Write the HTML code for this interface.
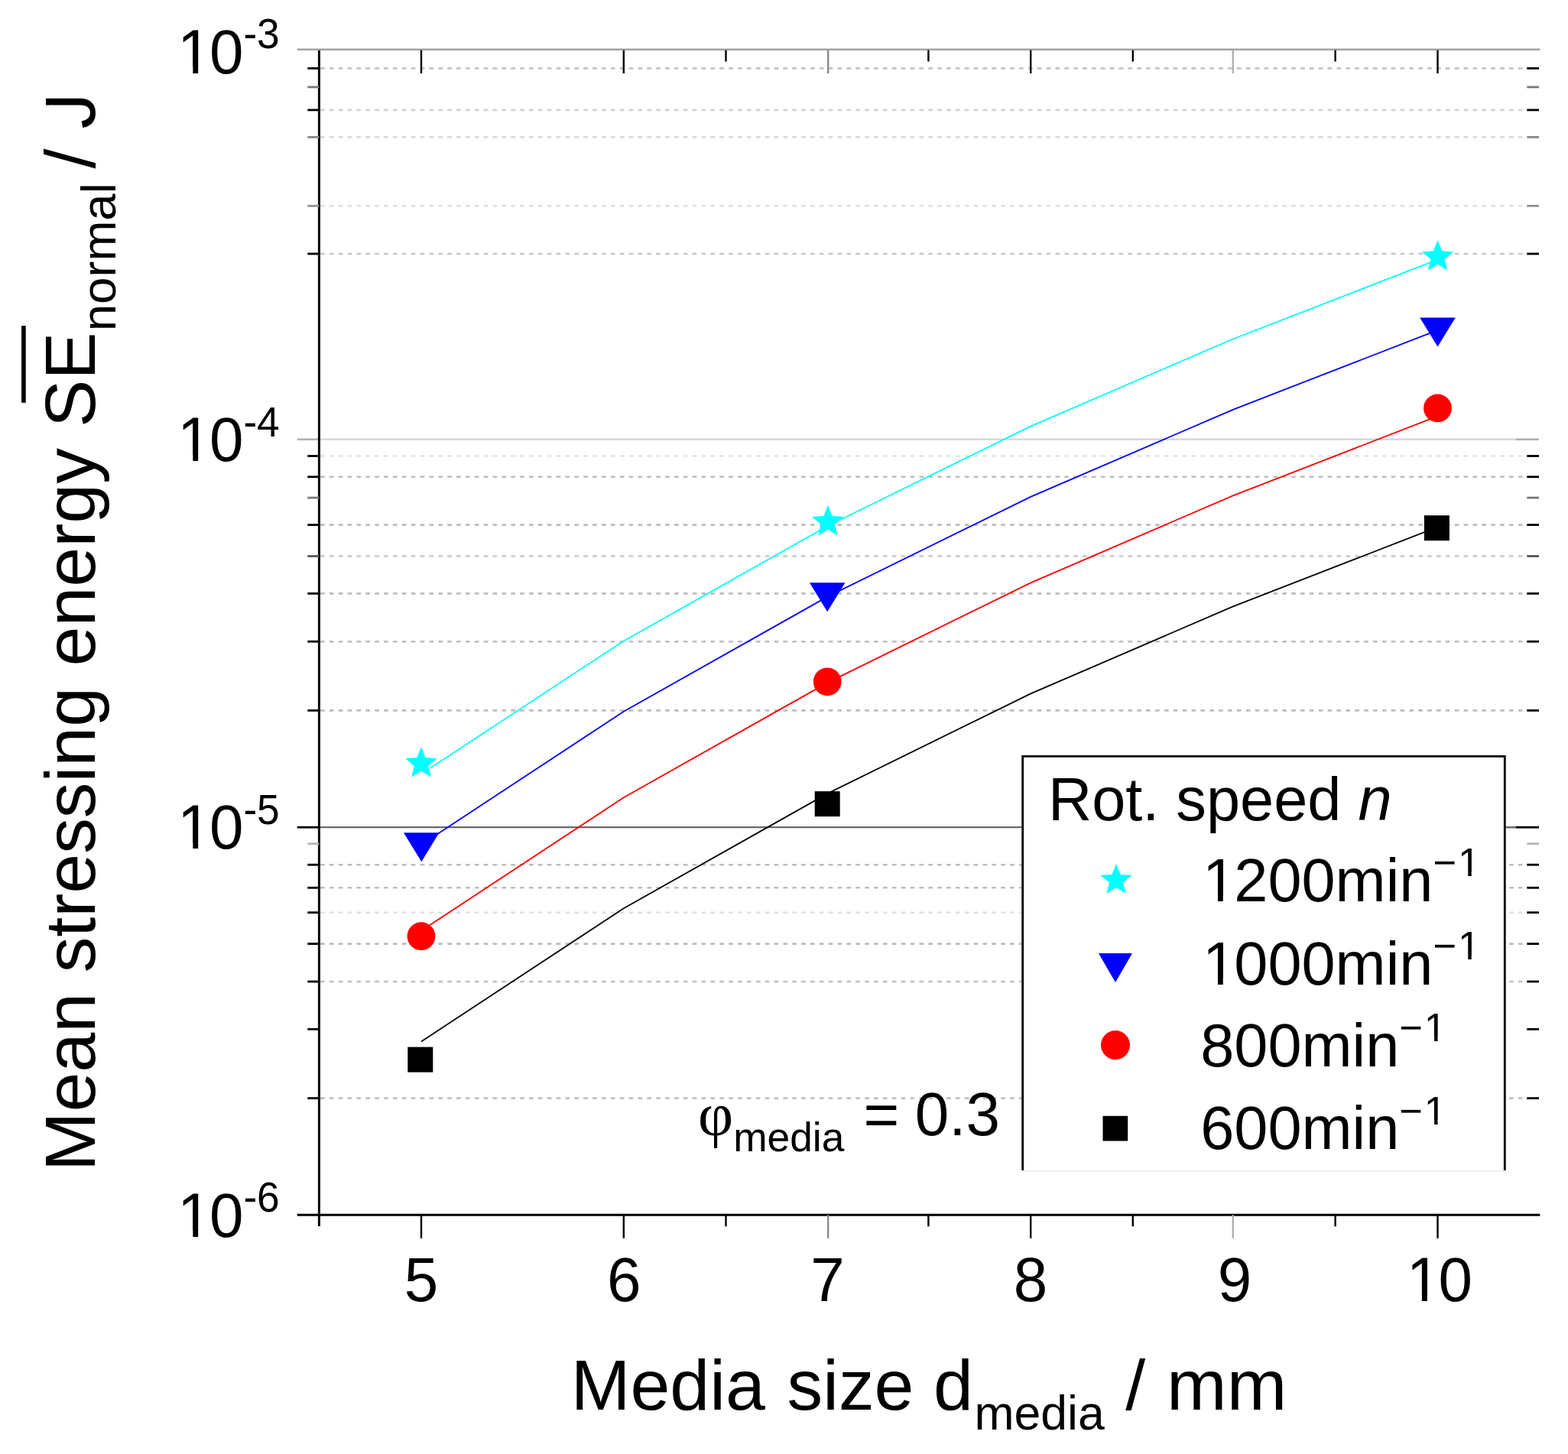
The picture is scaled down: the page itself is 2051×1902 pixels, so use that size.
<!DOCTYPE html>
<html lang="en">
<head>
<meta charset="utf-8">
<title>Mean stressing energy vs. media size</title>
<style>
html,body{margin:0;padding:0;background:#fff;}
body{width:2051px;height:1902px;overflow:hidden;}
svg{display:block;filter:blur(0.7px);}
</style>
</head>
<body>
<svg width="2051" height="1902" viewBox="0 0 2051 1902">
<rect x="0" y="0" width="2051" height="1902" fill="#fff"/>
<g fill="none" stroke-width="2.6" stroke-dasharray="5.7 6.17">
<line x1="419" y1="89.4" x2="1991.6" y2="89.4" stroke="#c4c4c4"/>
<line x1="419" y1="143.9" x2="1991.6" y2="143.9" stroke="#d2d2d2"/>
<line x1="419" y1="179.4" x2="1991.6" y2="179.4" stroke="#dadada"/>
<line x1="419" y1="269.3" x2="1991.6" y2="269.3" stroke="#dedede"/>
<line x1="419" y1="332.0" x2="1991.6" y2="332.0" stroke="#c6c6c6"/>
<line x1="419" y1="596.5" x2="1991.6" y2="596.5" stroke="#e2e2e2"/>
<line x1="419" y1="623.8" x2="1991.6" y2="623.8" stroke="#bdbdbd"/>
<line x1="419" y1="686.6" x2="1991.6" y2="686.6" stroke="#bdbdbd"/>
<line x1="419" y1="727.5" x2="1991.6" y2="727.5" stroke="#c8c8c8"/>
<line x1="419" y1="776.4" x2="1991.6" y2="776.4" stroke="#bdbdbd"/>
<line x1="419" y1="839.2" x2="1991.6" y2="839.2" stroke="#bdbdbd"/>
<line x1="419" y1="929.4" x2="1991.6" y2="929.4" stroke="#bdbdbd"/>
<line x1="419" y1="1131.2" x2="1991.6" y2="1131.2" stroke="#bdbdbd"/>
<line x1="419" y1="1161.3" x2="1991.6" y2="1161.3" stroke="#bdbdbd"/>
<line x1="419" y1="1193.7" x2="1991.6" y2="1193.7" stroke="#e0e0e0"/>
<line x1="419" y1="1234.6" x2="1991.6" y2="1234.6" stroke="#bdbdbd"/>
<line x1="419" y1="1284.0" x2="1991.6" y2="1284.0" stroke="#c0c0c0"/>
<line x1="419" y1="1436.6" x2="1991.6" y2="1436.6" stroke="#c0c0c0"/>
</g>
<line x1="388.7" y1="64.7" x2="2014.4" y2="64.7" stroke="#a2a2a2" stroke-width="2.6"/>
<line x1="417.4" y1="574.8" x2="1983" y2="574.8" stroke="#d8d8d8" stroke-width="2.4"/>
<line x1="388.7" y1="574.8" x2="417.4" y2="574.8" stroke="#b0b0b0" stroke-width="2.6"/>
<line x1="1983" y1="574.8" x2="2013" y2="574.8" stroke="#b0b0b0" stroke-width="2.6"/>
<line x1="417.4" y1="1082.2" x2="1983" y2="1082.2" stroke="#6a6a6a" stroke-width="2.2"/>
<line x1="388.7" y1="1082.2" x2="417.4" y2="1082.2" stroke="#000" stroke-width="2.8"/>
<line x1="1983" y1="1082.2" x2="2013" y2="1082.2" stroke="#000" stroke-width="2.8"/>
<polyline points="562.5,1005.1 815.8,838.4 1083.2,687.8 1348.2,557.6 1612.8,443.5 1880.5,339.6" fill="none" stroke="#00ffff" stroke-width="1.8"/>
<polyline points="551.0,1105.0 815.8,930.7 1083.2,780.1 1348.2,649.9 1612.8,535.8 1880.5,431.9" fill="none" stroke="#0000ff" stroke-width="1.8"/>
<polyline points="551.0,1217.5 815.8,1043.2 1083.2,892.6 1348.2,762.4 1612.8,648.3 1880.5,544.4" fill="none" stroke="#ff0000" stroke-width="1.8"/>
<polyline points="551.0,1362.5 815.8,1188.2 1083.2,1037.6 1348.2,907.4 1612.8,793.3 1880.5,689.4" fill="none" stroke="#000000" stroke-width="1.8"/>
<polygon points="551.0,977.1 556.6,991.1 571.7,992.2 560.1,1001.9 563.8,1016.5 551.0,1008.5 538.2,1016.5 541.9,1001.9 530.3,992.2 545.4,991.1" fill="#00ffff"/>
<polygon points="1082.9,661.0 1088.5,675.0 1103.6,676.1 1092.0,685.8 1095.7,700.4 1082.9,692.4 1070.1,700.4 1073.8,685.8 1062.2,676.1 1077.3,675.0" fill="#00ffff"/>
<polygon points="1880.6,314.3 1886.2,328.3 1901.3,329.4 1889.7,339.1 1893.4,353.7 1880.6,345.7 1867.8,353.7 1871.5,339.1 1859.9,329.4 1875.0,328.3" fill="#00ffff"/>
<polygon points="528.0,1089.2 574.5,1089.2 551.3,1127.2" fill="#0000ff"/>
<polygon points="1059.0,762.2 1105.5,762.2 1082.2,800.2" fill="#0000ff"/>
<polygon points="1857.2,415.4 1903.8,415.4 1880.5,453.4" fill="#0000ff"/>
<circle cx="551.0" cy="1224.7" r="18.4" fill="#ff0000"/>
<circle cx="1082.2" cy="891.8" r="18.4" fill="#ff0000"/>
<circle cx="1880.5" cy="533.9" r="18.4" fill="#ff0000"/>
<rect x="533.3" y="1369.6" width="33" height="33" fill="#000"/>
<rect x="1065.7" y="1035.1" width="33" height="33" fill="#000"/>
<rect x="1862.9" y="674.2" width="33" height="33" fill="#000"/>
<line x1="417.4" y1="66" x2="417.4" y2="1604" stroke="#000" stroke-width="3"/>
<line x1="388.7" y1="1589.3" x2="2014.4" y2="1589.3" stroke="#000" stroke-width="3"/>
<line x1="402.3" y1="89.4" x2="417.4" y2="89.4" stroke="#000" stroke-width="2.8"/>
<line x1="1997.3" y1="89.4" x2="2013" y2="89.4" stroke="#000" stroke-width="2.8"/>
<line x1="402.3" y1="113.9" x2="417.4" y2="113.9" stroke="#777" stroke-width="2.8"/>
<line x1="1997.3" y1="113.9" x2="2013" y2="113.9" stroke="#777" stroke-width="2.8"/>
<line x1="402.3" y1="143.9" x2="417.4" y2="143.9" stroke="#000" stroke-width="2.8"/>
<line x1="1997.3" y1="143.9" x2="2013" y2="143.9" stroke="#000" stroke-width="2.8"/>
<line x1="402.3" y1="179.4" x2="417.4" y2="179.4" stroke="#888" stroke-width="2.8"/>
<line x1="1997.3" y1="179.4" x2="2013" y2="179.4" stroke="#888" stroke-width="2.8"/>
<line x1="402.3" y1="269.3" x2="417.4" y2="269.3" stroke="#909090" stroke-width="2.8"/>
<line x1="1997.3" y1="269.3" x2="2013" y2="269.3" stroke="#909090" stroke-width="2.8"/>
<line x1="402.3" y1="332.0" x2="417.4" y2="332.0" stroke="#000" stroke-width="2.8"/>
<line x1="1997.3" y1="332.0" x2="2013" y2="332.0" stroke="#000" stroke-width="2.8"/>
<line x1="402.3" y1="596.5" x2="417.4" y2="596.5" stroke="#000" stroke-width="2.8"/>
<line x1="1997.3" y1="596.5" x2="2013" y2="596.5" stroke="#000" stroke-width="2.8"/>
<line x1="402.3" y1="623.8" x2="417.4" y2="623.8" stroke="#000" stroke-width="2.8"/>
<line x1="1997.3" y1="623.8" x2="2013" y2="623.8" stroke="#000" stroke-width="2.8"/>
<line x1="402.3" y1="651.1" x2="417.4" y2="651.1" stroke="#777" stroke-width="2.8"/>
<line x1="1997.3" y1="651.1" x2="2013" y2="651.1" stroke="#777" stroke-width="2.8"/>
<line x1="402.3" y1="686.6" x2="417.4" y2="686.6" stroke="#000" stroke-width="2.8"/>
<line x1="1997.3" y1="686.6" x2="2013" y2="686.6" stroke="#000" stroke-width="2.8"/>
<line x1="402.3" y1="727.5" x2="417.4" y2="727.5" stroke="#555" stroke-width="2.8"/>
<line x1="1997.3" y1="727.5" x2="2013" y2="727.5" stroke="#555" stroke-width="2.8"/>
<line x1="402.3" y1="776.4" x2="417.4" y2="776.4" stroke="#000" stroke-width="2.8"/>
<line x1="1997.3" y1="776.4" x2="2013" y2="776.4" stroke="#000" stroke-width="2.8"/>
<line x1="402.3" y1="839.2" x2="417.4" y2="839.2" stroke="#000" stroke-width="2.8"/>
<line x1="1997.3" y1="839.2" x2="2013" y2="839.2" stroke="#000" stroke-width="2.8"/>
<line x1="402.3" y1="929.4" x2="417.4" y2="929.4" stroke="#000" stroke-width="2.8"/>
<line x1="1997.3" y1="929.4" x2="2013" y2="929.4" stroke="#000" stroke-width="2.8"/>
<line x1="402.3" y1="1103.7" x2="417.4" y2="1103.7" stroke="#b4b4b4" stroke-width="2.8"/>
<line x1="1997.3" y1="1103.7" x2="2013" y2="1103.7" stroke="#b4b4b4" stroke-width="2.8"/>
<line x1="402.3" y1="1131.2" x2="417.4" y2="1131.2" stroke="#000" stroke-width="2.8"/>
<line x1="1997.3" y1="1131.2" x2="2013" y2="1131.2" stroke="#000" stroke-width="2.8"/>
<line x1="402.3" y1="1161.3" x2="417.4" y2="1161.3" stroke="#000" stroke-width="2.8"/>
<line x1="1997.3" y1="1161.3" x2="2013" y2="1161.3" stroke="#000" stroke-width="2.8"/>
<line x1="402.3" y1="1193.7" x2="417.4" y2="1193.7" stroke="#000" stroke-width="2.8"/>
<line x1="1997.3" y1="1193.7" x2="2013" y2="1193.7" stroke="#000" stroke-width="2.8"/>
<line x1="402.3" y1="1234.6" x2="417.4" y2="1234.6" stroke="#000" stroke-width="2.8"/>
<line x1="1997.3" y1="1234.6" x2="2013" y2="1234.6" stroke="#000" stroke-width="2.8"/>
<line x1="402.3" y1="1284.0" x2="417.4" y2="1284.0" stroke="#000" stroke-width="2.8"/>
<line x1="1997.3" y1="1284.0" x2="2013" y2="1284.0" stroke="#000" stroke-width="2.8"/>
<line x1="402.3" y1="1346.3" x2="417.4" y2="1346.3" stroke="#000" stroke-width="2.8"/>
<line x1="1997.3" y1="1346.3" x2="2013" y2="1346.3" stroke="#000" stroke-width="2.8"/>
<line x1="402.3" y1="1436.6" x2="417.4" y2="1436.6" stroke="#000" stroke-width="2.8"/>
<line x1="1997.3" y1="1436.6" x2="2013" y2="1436.6" stroke="#000" stroke-width="2.8"/>
<line x1="551.0" y1="1589.3" x2="551.0" y2="1619.8" stroke="#000" stroke-width="2.4"/>
<line x1="551.0" y1="65.7" x2="551.0" y2="96.0" stroke="#000" stroke-width="2.4"/>
<line x1="815.8" y1="1589.3" x2="815.8" y2="1619.8" stroke="#000" stroke-width="2.4"/>
<line x1="815.8" y1="65.7" x2="815.8" y2="96.0" stroke="#000" stroke-width="2.4"/>
<line x1="949.5" y1="1589.3" x2="949.5" y2="1604.3" stroke="#000" stroke-width="2.4"/>
<line x1="949.5" y1="65.7" x2="949.5" y2="80.5" stroke="#000" stroke-width="2.4"/>
<line x1="1083.2" y1="1589.3" x2="1083.2" y2="1619.8" stroke="#8a8a8a" stroke-width="2.4"/>
<line x1="1083.2" y1="65.7" x2="1083.2" y2="96.0" stroke="#8a8a8a" stroke-width="2.4"/>
<line x1="1214.4" y1="1589.3" x2="1214.4" y2="1604.3" stroke="#000" stroke-width="2.4"/>
<line x1="1214.4" y1="65.7" x2="1214.4" y2="80.5" stroke="#000" stroke-width="2.4"/>
<line x1="1348.2" y1="1589.3" x2="1348.2" y2="1619.8" stroke="#000" stroke-width="2.4"/>
<line x1="1348.2" y1="65.7" x2="1348.2" y2="96.0" stroke="#000" stroke-width="2.4"/>
<line x1="1481.8" y1="1589.3" x2="1481.8" y2="1604.3" stroke="#000" stroke-width="2.4"/>
<line x1="1481.8" y1="65.7" x2="1481.8" y2="80.5" stroke="#000" stroke-width="2.4"/>
<line x1="1612.8" y1="1589.3" x2="1612.8" y2="1619.8" stroke="#b0b0b0" stroke-width="2.4"/>
<line x1="1612.8" y1="65.7" x2="1612.8" y2="96.0" stroke="#b0b0b0" stroke-width="2.4"/>
<line x1="1746.6" y1="1589.3" x2="1746.6" y2="1604.3" stroke="#000" stroke-width="2.4"/>
<line x1="1746.6" y1="65.7" x2="1746.6" y2="80.5" stroke="#000" stroke-width="2.4"/>
<line x1="1880.5" y1="1589.3" x2="1880.5" y2="1619.8" stroke="#000" stroke-width="2.4"/>
<line x1="1880.5" y1="65.7" x2="1880.5" y2="96.0" stroke="#000" stroke-width="2.4"/>
<rect x="1337.7" y="989.4" width="630.6" height="542" fill="#fff"/>
<path d="M1337.7 1531 V989.4 H1968.3 V1531" fill="none" stroke="#000" stroke-width="2.8"/>
<line x1="1339" y1="1532" x2="1967" y2="1532" stroke="#f0f0f0" stroke-width="2"/>
<line x1="1969.7" y1="1082.2" x2="1983" y2="1082.2" stroke="#6a6a6a" stroke-width="2.2"/>
<polygon points="1460.1,1130.0 1465.7,1143.9 1480.6,1144.9 1469.1,1154.5 1472.8,1169.1 1460.1,1161.1 1447.4,1169.1 1451.1,1154.5 1439.6,1144.9 1454.5,1143.9" fill="#00ffff"/>
<polygon points="1437.0,1247.1 1481.0,1247.1 1459.0,1285.1" fill="#0000ff"/>
<circle cx="1459.0" cy="1367.1" r="19" fill="#ff0000"/>
<rect x="1442.5" y="1459.8" width="32.7" height="32.7" fill="#000"/>
<defs><clipPath id="c1"><path d="M200.0 5.9H390.0V125.9H200.0ZM236.71 88.32H252.34V97.40H236.71ZM259.21 88.32H274.21V97.40H259.21Z" clip-rule="evenodd"/></clipPath><clipPath id="c2"><path d="M200.0 513.3H390.0V633.3H200.0ZM236.71 595.72H252.34V604.80H236.71ZM259.21 595.72H274.21V604.80H259.21Z" clip-rule="evenodd"/></clipPath><clipPath id="c3"><path d="M200.0 1020.5H390.0V1140.5H200.0ZM236.71 1102.92H252.34V1112.00H236.71ZM259.21 1102.92H274.21V1112.00H259.21Z" clip-rule="evenodd"/></clipPath><clipPath id="c4"><path d="M200.0 1528.0H390.0V1648.0H200.0ZM236.71 1610.42H252.34V1619.50H236.71ZM259.21 1610.42H274.21V1619.50H259.21Z" clip-rule="evenodd"/></clipPath><clipPath id="c5"><path d="M1800.0 1620.0H1960.0V1730.0H1800.0ZM1844.32 1694.62H1859.94V1703.70H1844.32ZM1866.81 1694.62H1881.81V1703.70H1866.81Z" clip-rule="evenodd"/></clipPath><clipPath id="c6"><path d="M-20.0 -110.0H1420.0V60.0H-20.0ZM1380.22 -65.69H1394.17V-55.48H1380.22Z" clip-rule="evenodd"/></clipPath><clipPath id="c7"><path d="M1540.0 1083.7H1966.0V1208.7H1540.0ZM1909.42 1140.67H1920.24V1147.70H1909.42ZM1924.69 1140.67H1935.10V1147.70H1924.69ZM1577.44 1171.18H1592.94V1180.20H1577.44ZM1599.75 1171.18H1614.63V1180.20H1599.75Z" clip-rule="evenodd"/></clipPath><clipPath id="c8"><path d="M1540.0 1192.8H1966.0V1317.8H1540.0ZM1909.42 1249.77H1920.24V1256.80H1909.42ZM1924.69 1249.77H1935.10V1256.80H1924.69ZM1577.44 1280.28H1592.94V1289.30H1577.44ZM1599.75 1280.28H1614.63V1289.30H1599.75Z" clip-rule="evenodd"/></clipPath><clipPath id="c9"><path d="M1540.0 1299.6H1966.0V1424.6H1540.0ZM1865.32 1356.57H1876.14V1363.60H1865.32ZM1880.59 1356.57H1891.00V1363.60H1880.59Z" clip-rule="evenodd"/></clipPath><clipPath id="c10"><path d="M1540.0 1408.0H1966.0V1533.0H1540.0ZM1865.32 1464.97H1876.14V1472.00H1865.32ZM1880.59 1464.97H1891.00V1472.00H1880.59Z" clip-rule="evenodd"/></clipPath></defs>
<g font-family='"Liberation Sans", sans-serif' fill="#000">
<g transform="translate(0 95.9) scale(1 1.03) translate(0 -95.9)"><text clip-path="url(#c1)" y="95.9" font-size="80"><tspan x="232.1">1</tspan><tspan x="273.9">0</tspan><tspan font-size="53.3" dy="-31.75">-3</tspan></text></g>
<g transform="translate(0 603.3) scale(1 1.03) translate(0 -603.3)"><text clip-path="url(#c2)" y="603.3" font-size="80"><tspan x="232.1">1</tspan><tspan x="273.9">0</tspan><tspan font-size="53.3" dy="-31.75">-4</tspan></text></g>
<g transform="translate(0 1110.5) scale(1 1.03) translate(0 -1110.5)"><text clip-path="url(#c3)" y="1110.5" font-size="80"><tspan x="232.1">1</tspan><tspan x="273.9">0</tspan><tspan font-size="53.3" dy="-31.75">-5</tspan></text></g>
<g transform="translate(0 1618.0) scale(1 1.03) translate(0 -1618.0)"><text clip-path="url(#c4)" y="1618.0" font-size="80"><tspan x="232.1">1</tspan><tspan x="273.9">0</tspan><tspan font-size="53.3" dy="-31.75">-6</tspan></text></g>
<g transform="translate(0 1702.2) scale(1 1.03) translate(0 -1702.2)"><text x="551.0" y="1702.2" font-size="80" text-anchor="middle">5</text></g>
<g transform="translate(0 1702.2) scale(1 1.03) translate(0 -1702.2)"><text x="816.3" y="1702.2" font-size="80" text-anchor="middle">6</text></g>
<g transform="translate(0 1702.2) scale(1 1.03) translate(0 -1702.2)"><text x="1082.6" y="1702.2" font-size="80" text-anchor="middle">7</text></g>
<g transform="translate(0 1702.2) scale(1 1.03) translate(0 -1702.2)"><text x="1348.1" y="1702.2" font-size="80" text-anchor="middle">8</text></g>
<g transform="translate(0 1702.2) scale(1 1.03) translate(0 -1702.2)"><text x="1615.0" y="1702.2" font-size="80" text-anchor="middle">9</text></g>
<g transform="translate(0 1702.2) scale(1 1.03) translate(0 -1702.2)"><text clip-path="url(#c5)" y="1702.2" font-size="80"><tspan x="1839.7">1</tspan><tspan x="1881.5">0</tspan></text></g>
<text y="1844.3" font-size="93.3"><tspan x="746.7">Media</tspan> <tspan x="1029.6">size</tspan> <tspan x="1221.0">d</tspan><tspan x="1274.5" dy="25.6" font-size="62.5">media</tspan><tspan dy="-25.6"> </tspan><tspan x="1472.3">/</tspan> <tspan x="1526.0" textLength="157.3" lengthAdjust="spacingAndGlyphs">mm</tspan></text>
<g transform="translate(124.2 1531.6) rotate(-90)"><text clip-path="url(#c6)" y="0" font-size="93.3"><tspan x="-0.7">Mean</tspan> <tspan x="259.3">stressing</tspan> <tspan x="660.2">energy</tspan> <tspan x="972.7">SE</tspan><tspan x="1098.3" dy="27" font-size="63.5">normal</tspan><tspan dy="-27"> </tspan><tspan x="1311.1">/</tspan> <tspan x="1363.0">J</tspan></text></g>
<rect x="28.1" y="426.2" width="5.6" height="100.6" fill="#000"/>
<text x="1370.9" y="1072.8" font-size="79.3">Rot. speed <tspan font-style="italic">n</tspan></text>
<text clip-path="url(#c7)" y="1178.7" font-size="79.3"><tspan x="1572.9">1</tspan><tspan x="1614.3">200min</tspan><tspan x="1874.4" dy="-32.5" font-size="52.6">−</tspan><tspan x="1906.9" font-size="52.6">1</tspan></text>
<text clip-path="url(#c8)" y="1287.8" font-size="79.3"><tspan x="1572.9">1</tspan><tspan x="1614.3">000min</tspan><tspan x="1874.4" dy="-32.5" font-size="52.6">−</tspan><tspan x="1906.9" font-size="52.6">1</tspan></text>
<text clip-path="url(#c9)" y="1394.6" font-size="79.3"><tspan x="1570.2">800min</tspan><tspan x="1830.3" dy="-32.5" font-size="52.6">−</tspan><tspan x="1862.8" font-size="52.6">1</tspan></text>
<text clip-path="url(#c10)" y="1503.0" font-size="79.3"><tspan x="1570.2">600min</tspan><tspan x="1830.3" dy="-32.5" font-size="52.6">−</tspan><tspan x="1862.8" font-size="52.6">1</tspan></text>
<text y="1485.4" font-size="80"><tspan x="912.9" font-family='"Liberation Serif", serif'>φ</tspan><tspan x="959.2" font-size="53.3" dy="20.3">media</tspan><tspan dy="-20.3"> </tspan><tspan x="1129.6">=</tspan> <tspan x="1196.7">0.3</tspan></text>
</g>
</svg>
</body>
</html>
